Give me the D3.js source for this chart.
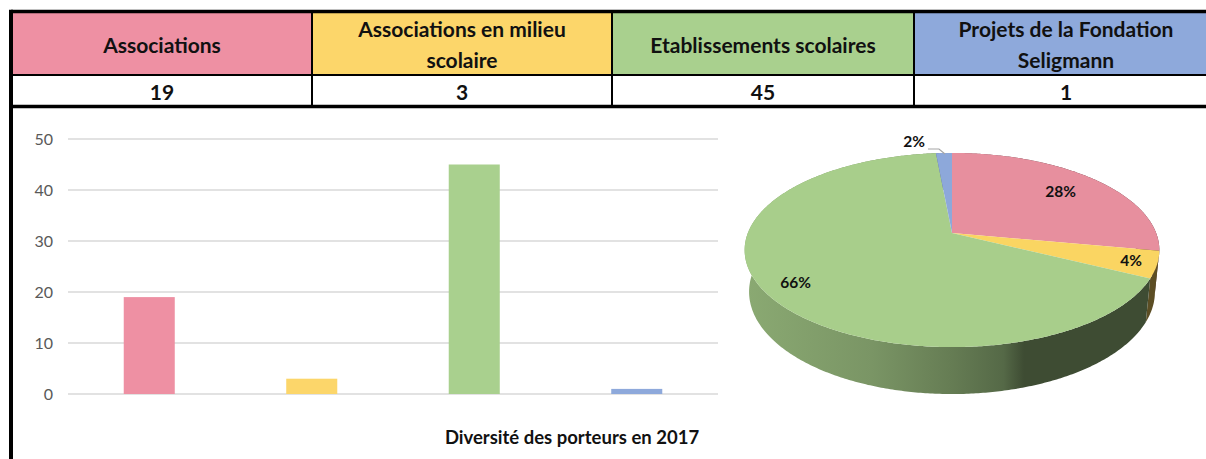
<!DOCTYPE html>
<html>
<head>
<meta charset="utf-8">
<script src="https://cdn.jsdelivr.net/npm/d3@7"></script>
<style>
  body { margin: 0; background: #fff; }
  svg { display: block; font-family: Lato, "Open Sans", sans-serif; }
</style>
</head>
<body>
<svg id="chart" width="1206" height="459"></svg>
<script>
// data
var categories = ["Associations", "Associations en milieu scolaire", "Etablissements scolaires", "Projets de la Fondation Seligmann"];
var headerLines = [["Associations"], ["Associations en milieu", "scolaire"], ["Etablissements scolaires"], ["Projets de la Fondation", "Seligmann"]];
var values = [19, 3, 45, 1];
var pctLabels = ["28%", "4%", "66%", "2%"];
var yTicks = [0, 10, 20, 30, 40, 50];
var title = "Diversité des porteurs en 2017";

var colors = ["#EE90A3", "#FCD66A", "#A9D08E", "#8EA9DB"];
var pieColors = ["#E78F9E", "#FAD562", "#A8CE8B", "#8DA8DA"];

var svg = d3.select("#chart");

// ---- table on top ----
var colX = [11, 312, 612, 914, 1212];
var rowY = [11.5, 75, 106.5];
var colMid = [162, 462, 763, 1066];

var table = svg.append("g").attr("class", "table");
table.selectAll("rect.head")
    .data(categories)
    .enter().append("rect")
    .attr("class", "head")
    .attr("x", function(d, i) { return colX[i]; })
    .attr("y", rowY[0])
    .attr("width", function(d, i) { return colX[i + 1] - colX[i]; })
    .attr("height", rowY[1] - rowY[0])
    .attr("fill", function(d, i) { return colors[i]; });

table.selectAll("text.head")
    .data(headerLines)
    .enter().append("text")
    .attr("class", "head")
    .attr("text-anchor", "middle")
    .attr("font-weight", "bold")
    .attr("font-size", 21)
    .attr("fill", "#111")
    .each(function(lines, i) {
        var t = d3.select(this);
        lines.forEach(function(l, j) {
            t.append("tspan")
                .attr("x", colMid[i])
                .attr("y", lines.length === 1 ? 52.5 : 37 + j * 30.5)
                .text(l);
        });
    });

table.selectAll("text.val")
    .data(values)
    .enter().append("text")
    .attr("class", "val")
    .attr("text-anchor", "middle")
    .attr("font-weight", "bold")
    .attr("font-size", 21)
    .attr("fill", "#111")
    .attr("x", function(d, i) { return colMid[i]; })
    .attr("y", 100)
    .text(function(d) { return d; });

// grid lines of the table
colX.slice(1, 4).forEach(function(x) {
    table.append("line").attr("x1", x).attr("x2", x).attr("y1", rowY[0]).attr("y2", rowY[2])
        .attr("stroke", "#000").attr("stroke-width", 2);
});
table.append("line").attr("x1", colX[0]).attr("x2", 1206).attr("y1", rowY[1]).attr("y2", rowY[1])
    .attr("stroke", "#000").attr("stroke-width", 2);
table.append("line").attr("x1", colX[0]).attr("x2", 1206).attr("y1", rowY[0]).attr("y2", rowY[0])
    .attr("stroke", "#000").attr("stroke-width", 3.5);
table.append("line").attr("x1", colX[0]).attr("x2", 1206).attr("y1", rowY[2]).attr("y2", rowY[2])
    .attr("stroke", "#000").attr("stroke-width", 3.5);
// left border down the whole picture
svg.append("line").attr("x1", 11).attr("x2", 11).attr("y1", 9.8).attr("y2", 459)
    .attr("stroke", "#000").attr("stroke-width", 4);

// ---- bar chart ----
var x = d3.scaleBand().domain(categories).range([68, 718]).paddingInner(0.686).paddingOuter(0.343);
var y = d3.scaleLinear().domain([0, 50]).range([394, 139]);

var bars = svg.append("g").attr("class", "bars");
bars.selectAll("line.grid")
    .data(yTicks)
    .enter().append("line")
    .attr("class", "grid")
    .attr("x1", 68).attr("x2", 718)
    .attr("y1", function(d) { return y(d); })
    .attr("y2", function(d) { return y(d); })
    .attr("stroke", "#d9d9d9")
    .attr("stroke-width", 1.5);

var yAxis = d3.axisLeft(y).tickValues(yTicks).tickSize(0).tickPadding(0);
bars.append("g")
    .attr("transform", "translate(53,0)")
    .call(yAxis)
    .call(function(g) { g.select(".domain").remove(); })
    .selectAll("text")
    .attr("font-family", "Lato, sans-serif")
    .attr("font-size", 16)
    .attr("fill", "#595959");

bars.selectAll("rect.bar")
    .data(values)
    .enter().append("rect")
    .attr("class", "bar")
    .attr("x", function(d, i) { return x(categories[i]); })
    .attr("width", x.bandwidth())
    .attr("y", function(d) { return y(d); })
    .attr("height", function(d) { return y(0) - y(d); })
    .attr("fill", function(d, i) { return colors[i]; });

// ---- 3D pie ----
var cx = 952, cy = 233, f = 1033, L = 5.06, sa = 0.461, ca = 0.887, H = 0.2326;
function proj(k, a, h) {
    var px = k * Math.sin(a), c = k * Math.cos(a);
    var py = c * sa - h * ca;
    var pz = L + c * ca + h * sa;
    return [cx + f * px / pz, cy - f * py / pz];
}
function arcPts(a0, a1, k, h) {
    var n = Math.max(2, Math.ceil((a1 - a0) / 0.01));
    return d3.range(n + 1).map(function(i) { return proj(k, a0 + (a1 - a0) * i / n, h); });
}

var arcs = d3.pie().sort(null)(values);
var line = d3.line();
var pie = svg.append("g").attr("class", "pie");
var defs = svg.append("defs");

// side shading, light on the left, dark on the right
var shade = [[0, 0.55], [0.3, 0.9], [0.49, 1.4], [0.62, 1.9], [0.67, 2.8], [1, 2.8]];
pieColors.forEach(function(c, i) {
    var g = defs.append("linearGradient").attr("id", "side" + i)
        .attr("gradientUnits", "userSpaceOnUse")
        .attr("x1", 748).attr("x2", 1160).attr("y1", 0).attr("y2", 0);
    shade.forEach(function(s) {
        g.append("stop").attr("offset", s[0]).attr("stop-color", d3.color(c).darker(s[1]).formatHex());
    });
});

pie.selectAll("path.side")
    .data(arcs)
    .enter().append("path")
    .attr("class", "side")
    .attr("d", function(d) {
        var top = arcPts(d.startAngle, d.endAngle, 1, 0);
        var bot = arcPts(d.startAngle, d.endAngle, 1, H).reverse();
        return line(top.concat(bot)) + "Z";
    })
    .attr("fill", function(d, i) { return "url(#side" + i + ")"; });

pie.selectAll("path.top")
    .data(arcs)
    .enter().append("path")
    .attr("class", "top")
    .attr("d", function(d) {
        return line([[cx, cy]].concat(arcPts(d.startAngle, d.endAngle, 1, 0))) + "Z";
    })
    .attr("fill", function(d, i) { return pieColors[i]; });

// labels: inside for the big slices, outside with a leader for the small one
var labelK = [0.75, 0.88, 0.85];
arcs.forEach(function(d, i) {
    var mid = (d.startAngle + d.endAngle) / 2;
    if (i < 3) {
        var p = proj(labelK[i], mid, 0);
        pie.append("text")
            .attr("x", p[0]).attr("y", p[1] + 5.5)
            .attr("text-anchor", "middle")
            .attr("font-weight", "bold").attr("font-size", 15.5)
            .attr("fill", "#111")
            .text(pctLabels[i]);
    } else {
        var e = proj(1, mid, 0);
        pie.append("path")
            .attr("d", line([[e[0] + 1, e[1] + 1], [e[0] - 5, e[1] - 4], [e[0] - 16, e[1] - 4]]))
            .attr("fill", "none").attr("stroke", "#a6a6a6").attr("stroke-width", 1.2);
        pie.append("text")
            .attr("x", e[0] - 19).attr("y", e[1] - 6)
            .attr("text-anchor", "end")
            .attr("font-weight", "bold").attr("font-size", 15.5)
            .attr("fill", "#111")
            .text(pctLabels[i]);
    }
});

// ---- title ----
svg.append("text")
    .attr("x", 572).attr("y", 444)
    .attr("text-anchor", "middle")
    .attr("font-weight", "bold").attr("font-size", 18.5)
    .attr("fill", "#111")
    .text(title);
</script>
</body>
</html>
